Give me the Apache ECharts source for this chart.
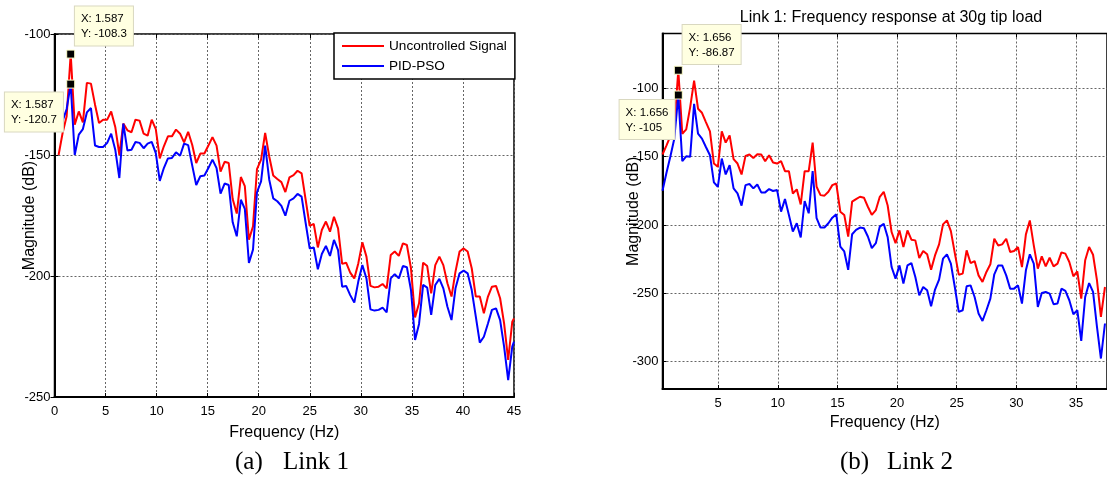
<!DOCTYPE html>
<html>
<head>
<meta charset="utf-8">
<script src="https://cdn.jsdelivr.net/npm/echarts@6/dist/echarts.min.js"></script>
<style>
html,body{margin:0;padding:0;background:#fff;}
#c{width:1107px;height:478px;}
</style>
</head>
<body>
<div id="c"></div>
<script>
// ---------- Link 1 (plot a) ----------
const freqA = [0.40,0.79,1.19,1.587,1.98,2.38,2.78,3.17,3.57,3.97,4.36,4.76,5.16,5.55,5.95,6.35,6.74,7.14,7.54,7.93,
  8.33,8.73,9.12,9.52,9.92,10.31,10.71,11.11,11.50,11.90,12.30,12.69,13.09,13.49,13.88,14.28,14.68,15.07,15.47,15.87,
  16.26,16.66,17.06,17.45,17.85,18.25,18.64,19.04,19.44,19.83,20.23,20.63,21.03,21.42,21.82,22.22,22.61,23.01,23.41,23.80,
  24.20,24.60,24.99,25.39,25.79,26.18,26.58,26.98,27.37,27.77,28.17,28.56,28.96,29.36,29.75,30.15,30.55,30.94,31.34,31.74,
  32.13,32.53,32.93,33.32,33.72,34.12,34.51,34.91,35.31,35.70,36.10,36.50,36.89,37.29,37.69,38.08,38.48,38.88,39.27,39.67,
  40.07,40.46,40.86,41.26,41.65,42.05,42.45,42.84,43.24,43.64,44.03,44.43,44.83,45.00];
const redA = [-150,-141,-134,-108.3,-137.5,-132,-136.5,-120.2,-120.5,-129.2,-136.8,-135.4,-135.4,-132,-138.4,-149.9,-137,-139.8,-140.6,-135.4,
  -135.8,-141.2,-142,-135.4,-139.3,-151.4,-146.4,-142.3,-142.3,-139.5,-141.2,-144.8,-140.4,-145.9,-153.3,-149.4,-149.4,-146.1,-142.6,-146.1,
  -156.9,-152.8,-153.3,-168.2,-174.2,-159.1,-162.9,-185,-179.5,-155.8,-151.9,-140.9,-150.6,-158.5,-159.9,-161.2,-165.3,-159.2,-158.3,-156.5,
  -157.6,-168.6,-179.3,-178.5,-188.2,-181,-177.5,-181.7,-175.5,-180.3,-195,-194.5,-198.6,-201,-194.8,-186.1,-192,-204.1,-204.7,-204.4,
  -203.3,-205.1,-191.3,-189.9,-191.7,-186.5,-187.2,-196.8,-217.1,-211.3,-194.5,-195.9,-207.2,-195.5,-192,-195.5,-203,-208.5,-198.2,-189.9,
  -188.6,-189.9,-196.8,-208.5,-208.5,-215.4,-208.5,-204.4,-204.1,-209.2,-219.6,-234.7,-218.9,-217.5];
const blueA = [-138,-136,-131,-120.7,-150,-141.6,-139.3,-132.4,-130.6,-146.1,-146.7,-146.7,-145,-141.2,-147.8,-159.5,-137,-148.1,-147.8,-144.6,
  -145,-147.2,-145.3,-144.6,-149.2,-160.7,-155.4,-151.4,-151.2,-148.9,-150.3,-145.3,-145.9,-154.4,-162.4,-158.8,-158.5,-155.4,-151.9,-155.4,
  -166,-161.8,-162.4,-177.8,-183.6,-168.5,-172.3,-194.6,-189.1,-165.4,-160.9,-146.1,-160.2,-167.9,-169.1,-171,-175.1,-168.9,-167.9,-166.1,
  -167.2,-178.2,-188.6,-188.2,-197.2,-190.9,-187.6,-191.7,-185.1,-189.3,-204.4,-204.1,-207.9,-211,-202.3,-195.5,-201,-213.8,-214.3,-214,
  -213.1,-215,-201,-199.2,-201,-195.9,-196.4,-205.8,-226.4,-219.8,-203.7,-204.8,-216.1,-203.7,-201.2,-205.1,-212.7,-218.2,-205.1,-198.9,
  -197.8,-198.9,-205.8,-216.8,-227.5,-225.1,-219.6,-214,-213.4,-218.2,-229.2,-243,-229.2,-227.1];

// ---------- Link 2 (plot b) ----------
const freqB = [0.33,0.66,0.99,1.32,1.656,1.99,2.32,2.65,2.98,3.31,3.64,3.97,4.31,4.64,4.97,5.30,5.63,5.96,6.29,6.62,
  6.96,7.29,7.62,7.95,8.28,8.61,8.94,9.27,9.60,9.94,10.27,10.60,10.93,11.26,11.59,11.92,12.25,12.59,12.92,13.25,
  13.58,13.91,14.24,14.57,14.90,15.24,15.57,15.90,16.23,16.56,16.89,17.22,17.55,17.88,18.22,18.55,18.88,19.21,19.54,19.87,
  20.20,20.53,20.87,21.20,21.53,21.86,22.19,22.52,22.85,23.18,23.52,23.85,24.18,24.51,24.84,25.17,25.50,25.83,26.16,26.50,
  26.83,27.16,27.49,27.82,28.15,28.48,28.81,29.15,29.48,29.81,30.14,30.47,30.80,31.13,31.46,31.80,32.13,32.46,32.79,33.12,
  33.45,33.78,34.11,34.44,34.78,35.11,35.44,35.77,36.10,36.43,36.76,37.09,37.43];
const redB = [-148.5,-142,-135,-128,-86.87,-133.3,-130.1,-114,-94.4,-115,-118,-124.8,-131.6,-155.1,-157.5,-131.6,-139.8,-134.5,-151.9,-155.1,
  -163.1,-149.5,-148.5,-151,-148.3,-148.5,-153.4,-149,-154.4,-155.1,-153.4,-160.7,-160.7,-177,-174,-185,-160.7,-160.7,-139.8,-172.1,
  -178.2,-178.6,-175.7,-170.9,-169.7,-190.3,-192.7,-208.5,-183,-181.1,-179.4,-180.1,-186.7,-192.7,-189.1,-179.4,-175.8,-185.8,-205.2,-213.3,
  -204,-216.2,-204,-210.8,-211.3,-224.2,-219.1,-221.5,-232.7,-222.3,-214.2,-199.6,-196.7,-204.5,-220.6,-236.4,-235.6,-218.6,-227.9,-226.4,
  -236.9,-241.7,-234.4,-228.8,-210.1,-215,-214.2,-210.1,-219.8,-219.1,-216.2,-230.8,-206.9,-196.7,-215,-232,-223,-230.3,-224,-230.3,
  -228.3,-220.1,-221,-227.1,-237.6,-233.9,-253.9,-225.9,-216.2,-221.8,-240.5,-267.3,-245.4];
const blueB = [-175,-162,-150,-137,-105,-153.4,-149.8,-150.2,-111.4,-133.3,-136.9,-143,-149,-168.9,-172.1,-151.5,-163.1,-156.3,-173.3,-176.9,
  -185.9,-170.9,-170.1,-173.3,-170.4,-176.2,-176.2,-173.8,-175.2,-174.5,-190.3,-181.1,-192.7,-204.9,-198.8,-209.2,-182.5,-191.5,-160.7,-195.1,
  -201.9,-201.9,-198.8,-194.7,-192.2,-215.8,-219.4,-232.8,-206.8,-203.6,-201.9,-202.4,-208.5,-217,-213.3,-201.2,-199.2,-208.9,-230.8,-239.3,
  -229.6,-242.9,-229.6,-227.9,-238.1,-251.5,-245.4,-247.8,-259.5,-247.3,-240,-224.7,-221.5,-228.3,-245.4,-263.6,-262.4,-244.9,-244.2,-252.7,
  -264.8,-270.2,-262.4,-253.9,-236.1,-229.6,-229.6,-236.9,-246.6,-246.6,-244.2,-257.5,-233.2,-221.5,-228.3,-260,-249.8,-249,-250.2,-258,
  -257.5,-246.6,-248.3,-255.1,-265.3,-262.4,-284.8,-252.7,-242.5,-249,-274.6,-297.7,-272.1];

// data tips
const tipFreq = [1.587, 1.656];
const tipRed = [-108.3, -86.87];
const tipBlue = [-120.7, -105];

// ticks
const ticksXA = [0,5,10,15,20,25,30,35,40,45];
const ticksYA = [-250,-200,-150,-100];
const ticksXB = [5,10,15,20,25,30,35];
const ticksYB = [-300,-250,-200,-150,-100];

const seriesNames = ['Uncontrolled Signal', 'PID-PSO'];
const titleB = 'Link 1: Frequency response at 30g tip load';
const xName = 'Frequency (Hz)';
const yName = 'Magnitude (dB)';

const FONT = '"Liberation Sans", Arial, sans-serif';
const SERIF = '25px "Liberation Serif", "Times New Roman", serif';
const pair = (xs, ys) => xs.map((x, i) => [x, ys[i]]);

const tipLabel = (x, y, pos) => ({
  show: true,
  formatter: 'X: ' + x + '\nY: ' + y,
  position: pos,
  align: 'left', verticalAlign: 'top',
  backgroundColor: '#ffffe1', borderColor: '#d9d8c0', borderWidth: 1,
  padding: [5, 6, 4, 6],
  color: '#000', fontFamily: FONT, fontSize: 11.5, lineHeight: 15
});
const tipPoint = (x, y, pos) => ({
  symbol: 'rect', symbolSize: 8, silent: true,
  itemStyle: {color: '#000', borderColor: '#ffffcc', borderWidth: 1},
  data: [{coord: [x, y], label: tipLabel(x, y, pos)}]
});

const gridLine = {show: true, lineStyle: {color: '#666', width: 1, type: [2, 2]}};
const tickLbl = {color: '#000', fontFamily: FONT, fontSize: 13};
const nameStyle = {color: '#000', fontFamily: FONT, fontSize: 16};

const chart = echarts.init(document.getElementById('c'), null, {renderer: 'canvas'});
chart.setOption({
  animation: false,
  backgroundColor: '#fff',
  title: {
    text: titleB, left: 886, top: 5, textAlign: 'center',
    textStyle: {color: '#000', fontFamily: FONT, fontSize: 16, fontWeight: 'normal'}
  },
  legend: {
    data: seriesNames, orient: 'vertical', left: 334, top: 33,
    backgroundColor: '#fff', borderColor: '#000', borderWidth: 1.5,
    padding: [6, 8, 6, 8], itemGap: 6, itemWidth: 42, itemHeight: 2, icon: 'rect',
    textStyle: {color: '#000', fontFamily: FONT, fontSize: 13.6}
  },
  grid: [
    {left: 54.5, top: 34, width: 459.5, height: 363, show: true, borderColor: '#000', borderWidth: 1.5, backgroundColor: 'transparent'},
    {left: 662.5, top: 33.5, width: 447.5, height: 355.5, show: true, borderColor: '#000', borderWidth: 1.5, backgroundColor: 'transparent'}
  ],
  xAxis: [
    {gridIndex: 0, type: 'value', min: 0, max: 45, interval: 5,
     name: xName, nameLocation: 'middle', nameGap: 28, nameTextStyle: nameStyle,
     axisLine: {show: true, onZero: false, lineStyle: {color: '#000', width: 2}},
     axisTick: {show: true, inside: true, length: 4, lineStyle: {color: '#000'}},
     axisLabel: Object.assign({margin: 8, customValues: ticksXA}, tickLbl),
     splitLine: gridLine},
    {gridIndex: 0, type: 'value', min: 0, max: 45, interval: 5, position: 'top',
     axisLine: {show: false}, axisTick: {show: true, inside: true, length: 4, lineStyle: {color: '#000'}},
     axisLabel: {show: false}, splitLine: {show: false}},
    {gridIndex: 1, type: 'value', min: 0.331, max: 37.6,
     name: xName, nameLocation: 'middle', nameGap: 26, nameTextStyle: nameStyle,
     axisLine: {show: true, onZero: false, lineStyle: {color: '#000', width: 2}},
     axisTick: {show: true, inside: true, length: 4, lineStyle: {color: '#000'}, customValues: ticksXB},
     axisLabel: Object.assign({margin: 8, customValues: ticksXB}, tickLbl),
     splitLine: gridLine},
    {gridIndex: 1, type: 'value', min: 0.331, max: 37.6, position: 'top',
     axisLine: {show: false}, axisTick: {show: true, inside: true, length: 4, lineStyle: {color: '#000'}, customValues: ticksXB},
     axisLabel: {show: false}, splitLine: {show: false}}
  ],
  yAxis: [
    {gridIndex: 0, type: 'value', min: -250, max: -100, interval: 50,
     name: yName, nameLocation: 'middle', nameGap: 17, nameMoveOverlap: false, nameTextStyle: nameStyle,
     axisLine: {show: true, onZero: false, lineStyle: {color: '#000', width: 2}},
     axisTick: {show: true, inside: true, length: 4, lineStyle: {color: '#000'}},
     axisLabel: Object.assign({margin: 4, customValues: ticksYA}, tickLbl),
     splitLine: gridLine},
    {gridIndex: 0, type: 'value', min: -250, max: -100, interval: 50, position: 'right',
     axisLine: {show: false}, axisTick: {show: true, inside: true, length: 4, lineStyle: {color: '#000'}},
     axisLabel: {show: false}, splitLine: {show: false}},
    {gridIndex: 1, type: 'value', min: -320, max: -60,
     name: yName, nameLocation: 'middle', nameGap: 20.5, nameMoveOverlap: false, nameTextStyle: nameStyle,
     axisLine: {show: true, onZero: false, lineStyle: {color: '#000', width: 2}},
     axisTick: {show: true, inside: true, length: 4, lineStyle: {color: '#000'}, customValues: ticksYB},
     axisLabel: Object.assign({margin: 4, customValues: ticksYB}, tickLbl),
     splitLine: gridLine}
  ],
  series: [
    {name: seriesNames[0], type: 'line', xAxisIndex: 0, yAxisIndex: 0, data: pair(freqA, redA),
     showSymbol: false, symbol: 'none', lineStyle: {color: '#ff0000', width: 2}, itemStyle: {color: '#ff0000'},
     markPoint: tipPoint(tipFreq[0], tipRed[0], [8.7, -43])},
    {name: seriesNames[1], type: 'line', xAxisIndex: 0, yAxisIndex: 0, data: pair(freqA, blueA),
     showSymbol: false, symbol: 'none', lineStyle: {color: '#0000ff', width: 2}, itemStyle: {color: '#0000ff'},
     markPoint: tipPoint(tipFreq[0], tipBlue[0], [-61.3, 13])},
    {name: seriesNames[0], type: 'line', xAxisIndex: 2, yAxisIndex: 2, data: pair(freqB, redB),
     showSymbol: false, symbol: 'none', lineStyle: {color: '#ff0000', width: 2}, itemStyle: {color: '#ff0000'},
     markPoint: tipPoint(tipFreq[1], tipRed[1], [8.8, -40.7])},
    {name: seriesNames[1], type: 'line', xAxisIndex: 2, yAxisIndex: 2, data: pair(freqB, blueB),
     showSymbol: false, symbol: 'none', lineStyle: {color: '#0000ff', width: 2}, itemStyle: {color: '#0000ff'},
     markPoint: tipPoint(tipFreq[1], tipBlue[1], [-54.2, 9.5])}
  ],
  graphic: [
    {type: 'text', style: {x: 235, y: 462, text: '(a)', font: SERIF, fill: '#000', verticalAlign: 'middle'}},
    {type: 'text', style: {x: 283, y: 462, text: 'Link 1', font: SERIF, fill: '#000', verticalAlign: 'middle'}},
    {type: 'text', style: {x: 840, y: 462, text: '(b)', font: SERIF, fill: '#000', verticalAlign: 'middle'}},
    {type: 'text', style: {x: 887, y: 462, text: 'Link 2', font: SERIF, fill: '#000', verticalAlign: 'middle'}}
  ]
});
</script>
</body>
</html>
